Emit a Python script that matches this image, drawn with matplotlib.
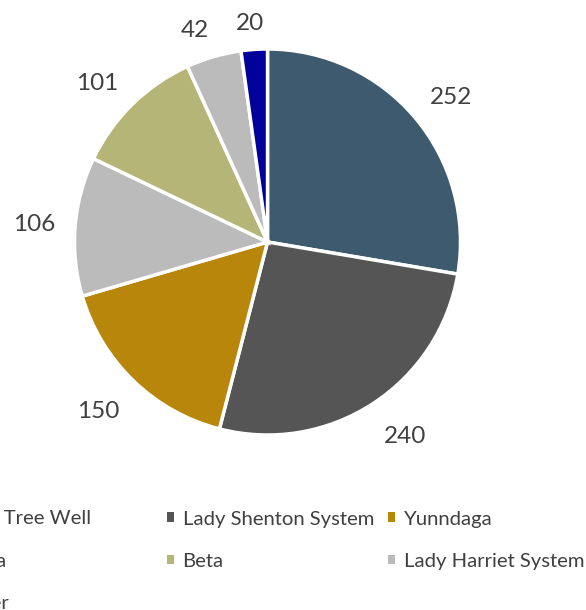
import numpy as np
import matplotlib
matplotlib.use("Agg")
import matplotlib.pyplot as plt
from matplotlib.patches import Patch

plt.rcParams['font.family'] = ['Lato', 'DejaVu Sans']

categories = ["Cork Tree Well", "Lady Shenton System", "Yunndaga", "Alpha",
              "Beta", "Lady Harriet System", "Other"]
values = [252, 240, 150, 106, 101, 42, 20]
colors = ["#3d5a6f", "#555555", "#b8860b", "#bbbbbb", "#b5b577", "#bbbbbb", "#00009a"]
text_color = "#404040"

W, H = 586, 610
fig = plt.figure(figsize=(W / 100, H / 100), dpi=100)
cx, cy, r = 267.5, 242, 193
ax = fig.add_axes([(cx - r) / W, (H - cy - r) / H, 2 * r / W, 2 * r / H])
label_pt = 17.5
wedges, texts = ax.pie(values, colors=colors, startangle=90, counterclock=False,
                       labels=[str(v) for v in values], labeldistance=1.2,
                       wedgeprops=dict(edgecolor="white", linewidth=2.5),
                       textprops=dict(fontsize=label_pt, color=text_color))
ax.set_xlim(-1, 1)
ax.set_ylim(-1, 1)
ax.set_aspect("equal")
ax.axis("off")

# outside-end labels: nearest corner of the label box sits a fixed gap outside the pie
renderer = fig.canvas.get_renderer()
gap = 20 / r
fs_px = label_pt * 100 / 72
hh = 0.36 * fs_px / r          # half height of the digits
extra_below = 5 / r            # label box extends above the digits (ascent)
for w, t in zip(wedges, texts):
    ang = np.deg2rad((w.theta1 + w.theta2) / 2)
    c, s = np.cos(ang), np.sin(ang)
    t.set_ha("center")
    t.set_va("baseline")
    bb = t.get_window_extent(renderer)
    hw = bb.width / 2 / r
    hv = hh + (extra_below if s < 0 else 0)
    x = (1 + gap) * c + hw * np.clip(c / 0.3, -1, 1)
    y = (1 + gap) * s + hv * np.clip(s / 0.3, -1, 1)
    t.set_position((x, y - hh))

handles = [Patch(facecolor=c, edgecolor="none", label=l) for c, l in zip(colors, categories)]
common = dict(frameon=False, fontsize=14.6, labelcolor=text_color, handlelength=0.35,
              handleheight=0.35, handletextpad=0.42, labelspacing=1.24,
              borderpad=0, borderaxespad=0)
top = 1 - 510.5 / H
fig.legend(handles=[handles[i] for i in (0, 3, 6)], loc="upper right",
           bbox_to_anchor=(91 / W, top), **common)
fig.legend(handles=[handles[i] for i in (1, 4)], loc="upper left",
           bbox_to_anchor=(167 / W, top), **common)
fig.legend(handles=[handles[i] for i in (2, 5)], loc="upper left",
           bbox_to_anchor=(388 / W, top), **common)

fig.savefig("out.png", dpi=100, facecolor="white")
